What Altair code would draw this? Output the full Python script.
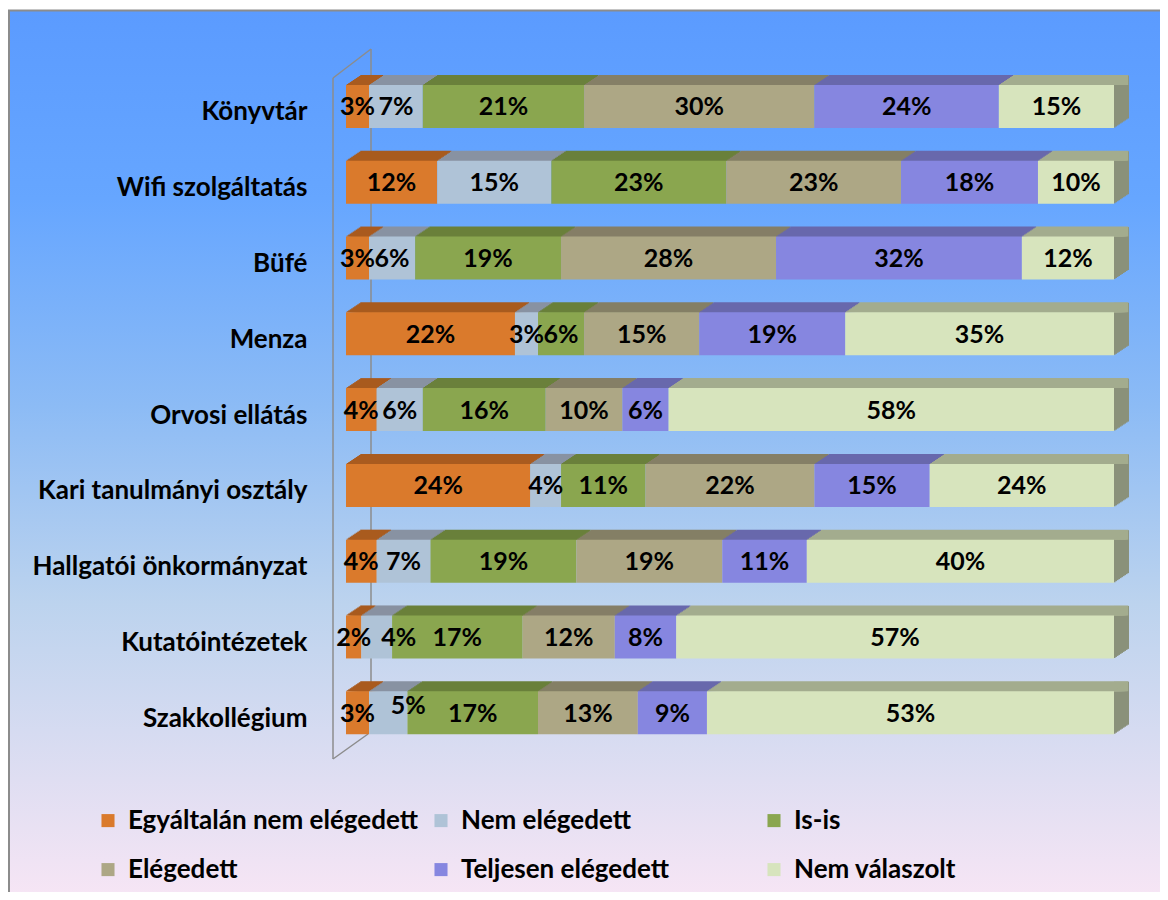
import altair as alt
import pandas as pd

categories = ["Könyvtár", "Wifi szolgáltatás", "Büfé", "Menza", "Orvosi ellátás",
              "Kari tanulmányi osztály", "Hallgatói önkormányzat", "Kutatóintézetek", "Szakkollégium"]
series = ["Egyáltalán nem elégedett", "Nem elégedett", "Is-is", "Elégedett",
          "Teljesen elégedett", "Nem válaszolt"]
egyaltalan = [3, 12, 3, 22, 4, 24, 4, 2, 3]
nem_eleg = [7, 15, 6, 3, 6, 4, 7, 4, 5]
isis = [21, 23, 19, 6, 16, 11, 19, 17, 17]
elegedett = [30, 23, 28, 15, 10, 22, 19, 12, 13]
teljesen = [24, 18, 32, 19, 6, 15, 11, 8, 9]
nem_val = [15, 10, 12, 35, 58, 24, 40, 57, 53]

front_colors = ["#DA7A2C", "#AFC3D7", "#8AA64F", "#ADA785", "#8686E0", "#D7E4BD"]
top_colors = ["#A95B1F", "#8892A2", "#6A803B", "#857F66", "#6868AC", "#A3AC8E"]
side_color = "#8A917A"

# labels that the original chart nudged away from their neighbours (pixels)
label_nudge = {("Kutatóintézetek", "Nem elégedett"): (22, 0),
               ("Szakkollégium", "Nem elégedett"): (20, -8)}

vals = [egyaltalan, nem_eleg, isis, elegedett, teljesen, nem_val]
rows = []
for si, s in enumerate(series):
    for ci, c in enumerate(categories):
        rows.append({"cat": c, "series": s, "order": si, "value": vals[si][ci],
                     "dark": top_colors[si],
                     "nudged": (c, s) in label_nudge})
df = pd.DataFrame(rows)

W, H = 768, 682
FONT = "Lato"

yenc = alt.Y("cat:N", sort=categories,
             scale=alt.Scale(paddingInner=0.433, paddingOuter=0.2165),
             axis=alt.Axis(title=None, domain=False, ticks=False, labelFont=FONT,
                           labelFontWeight="bold", labelFontSize=26, labelColor="black",
                           labelPadding=39, labelLimit=400, labelOffset=6, zindex=2))
xscale = alt.Scale(domain=[0, 1], nice=False, zero=False)

base = alt.Chart(df).transform_stack(
    stack="value", groupby=["cat"], as_=["x0", "x1"], offset="normalize",
    sort=[alt.SortField("order", order="ascending")]
).transform_calculate(mid="(datum.x0 + datum.x1) / 2", lbl="datum.value + '%'")

one = pd.DataFrame({"a": [0]})

bg = alt.Chart(one).mark_rect(
    fill=alt.Gradient(gradient="linear", x1=0, x2=0, y1=0, y2=1,
                      stops=[alt.GradientStop(offset=0, color="#5B9BFF"),
                             alt.GradientStop(offset=0.21, color="#66A6FF"),
                             alt.GradientStop(offset=0.44, color="#8CBBF5"),
                             alt.GradientStop(offset=0.66, color="#BCD3EE"),
                             alt.GradientStop(offset=1, color="#F9E6F5")]),
    stroke="#8C8C8C", strokeWidth=2
).encode(x=alt.value(-337), x2=alt.value(830), y=alt.value(-58), y2=alt.value(840))

wall_col = "#8C8C8C"
walls = [
    alt.Chart(one).mark_rule(color=wall_col, strokeWidth=1.5).encode(
        x=alt.value(-13), y=alt.value(9.4), y2=alt.value(690.4)),
    alt.Chart(one).mark_rule(color=wall_col, strokeWidth=1.5).encode(
        x=alt.value(25), y=alt.value(-19.6), y2=alt.value(665.4)),
    alt.Chart(one).mark_rule(color=wall_col, strokeWidth=1.5).encode(
        x=alt.value(-13), x2=alt.value(25), y=alt.value(9.4), y2=alt.value(-19.6)),
    alt.Chart(one).mark_rule(color=wall_col, strokeWidth=1.5).encode(
        x=alt.value(-13), x2=alt.value(22), y=alt.value(690.4), y2=alt.value(665.4)),
]

# right side faces: drawn back to front so that each step covers the previous one
sides = []
for k in range(9, -1, -1):
    sides.append(base.transform_filter(alt.datum.order == 5).mark_rect(
        color=side_color, yOffset=-(k + 0.5), y2Offset=-(k + 0.5), strokeWidth=0).encode(
        y=yenc, x=alt.value(W), x2=alt.value(W + 1.5 * (k + 1))))

# top faces: stepped slices emulating the 3D parallelogram
tops = []
for k in range(9, -1, -1):
    sh = 1.5 * (k + 0.5)
    tops.append(base.mark_bar(size=k + 1, yOffset=-(21.5 + (k + 1) / 2), xOffset=sh,
                              x2Offset=sh, strokeWidth=0).encode(
        y=yenc, x=alt.X("x0:Q", scale=xscale, axis=None), x2="x1:Q",
        fill=alt.Fill("dark:N", scale=None)))

bars = base.mark_bar(size=43, strokeWidth=0).encode(
    y=yenc,
    x=alt.X("x0:Q", scale=xscale, axis=None), x2="x1:Q",
    color=alt.Color("series:N", sort=series,
                    scale=alt.Scale(domain=series, range=front_colors),
                    legend=alt.Legend(title=None, orient="none", legendX=-251, legendY=739,
                                      direction="horizontal",
                                      columns=3, gridAlign="all", columnPadding=10,
                                      rowPadding=23, symbolType="square", symbolSize=170,
                                      symbolStrokeWidth=0, labelFont=FONT,
                                      labelFontWeight="bold", labelFontSize=26,
                                      labelColor="black", labelLimit=500, labelOffset=7)),
    order=alt.Order("order:Q"),
)

texts = base.transform_filter(alt.datum.nudged == False).mark_text(
    font=FONT, fontWeight="bold", fontSize=25, color="black", baseline="middle", dy=1).encode(
    y=yenc, x=alt.X("mid:Q", scale=xscale, axis=None), text="lbl:N")

nudged_texts = []
for (c, s), (ndx, ndy) in label_nudge.items():
    nudged_texts.append(base.transform_filter(
        (alt.datum.cat == c) & (alt.datum.series == s)).mark_text(
        font=FONT, fontWeight="bold", fontSize=25, color="black", baseline="middle",
        dx=ndx, dy=1 + ndy).encode(
        y=yenc, x=alt.X("mid:Q", scale=xscale, axis=None), text="lbl:N"))

chart = alt.layer(bg, *walls, *sides, *tops, bars, texts, *nudged_texts).properties(
    width=W, height=H,
    autosize=alt.AutoSizeParams(type="none"),
    padding={"left": 338, "top": 60.6, "right": 46, "bottom": 141.4},
).configure_view(stroke=None).configure(background="white")

chart.save("out.html", embed_options={"renderer": "svg", "actions": False})
